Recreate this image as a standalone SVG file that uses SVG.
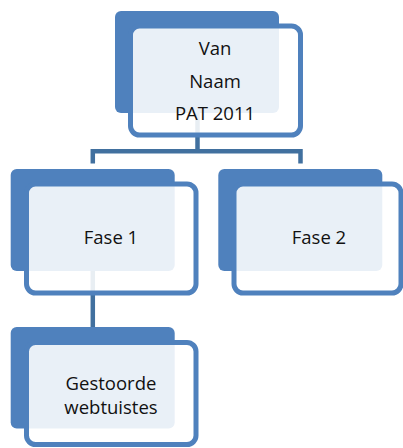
<svg xmlns="http://www.w3.org/2000/svg" width="403" height="448" viewBox="0 0 403 448">
  <style>
    .back { fill: #4F81BD; }
    .front { fill: #FFFFFF; fill-opacity: 0.88; stroke: #4F81BD; stroke-width: 5; }
    .conn { fill: none; stroke: #41709F; stroke-width: 4.5; stroke-linejoin: miter; stroke-linecap: butt; }
    .label { font-family: "Open Sans", "Liberation Sans", sans-serif; font-size: 18.5px; fill: #111111; text-anchor: middle; }
  </style>
  <rect width="403" height="448" fill="#FFFFFF"/>
  <g id="connectors">
    <path class="conn" d="M197.5 110 V151.3"/>
    <path class="conn" d="M92.8 163.5 V151.3 H300.5 V163.5"/>
    <path class="conn" d="M92.8 268 V327"/>
  </g>
  <g id="node-top">
    <rect class="back" x="115" y="11" width="164" height="102" rx="6"/>
    <rect class="front" x="130.5" y="26" width="170" height="109" rx="9"/>
    <text class="label" x="215" y="54.5">Van</text>
    <text class="label" x="215" y="88">Naam</text>
    <text class="label" x="215" y="120">PAT 2011</text>
  </g>
  <g id="node-fase1">
    <rect class="back" x="10.7" y="169" width="164" height="102" rx="6"/>
    <rect class="front" x="26.5" y="184" width="169.5" height="109" rx="9"/>
    <text class="label" x="111" y="244.3">Fase 1</text>
  </g>
  <g id="node-fase2">
    <rect class="back" x="218.3" y="169" width="164" height="102" rx="6"/>
    <rect class="front" x="234" y="184" width="167" height="109" rx="9"/>
    <text class="label" x="319" y="244.3">Fase 2</text>
  </g>
  <g id="node-gestoorde">
    <rect class="back" x="10.7" y="327" width="164" height="101.5" rx="6"/>
    <rect class="front" x="26.5" y="342.5" width="169.5" height="102" rx="9"/>
    <text class="label" x="111" y="389.5">Gestoorde</text>
    <text class="label" x="111" y="414">webtuistes</text>
  </g>
</svg>
